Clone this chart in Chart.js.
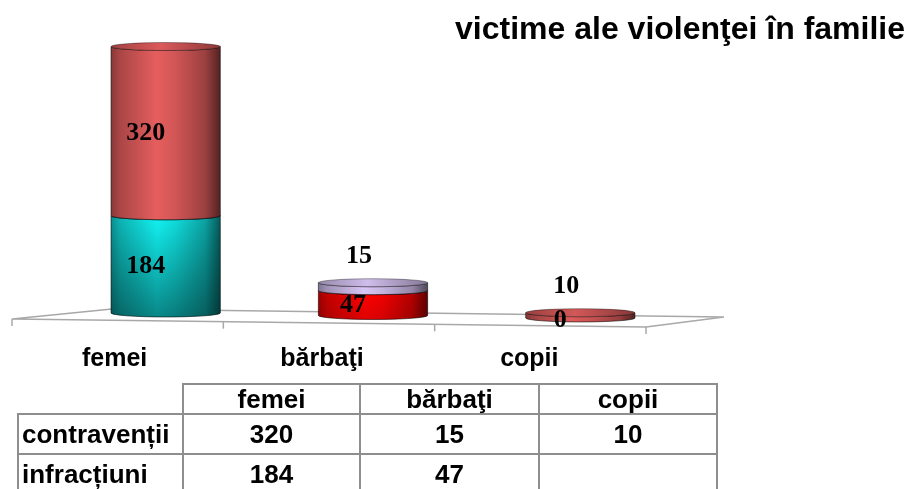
<!DOCTYPE html>
<html><head><meta charset="utf-8">
<script src="https://cdn.jsdelivr.net/npm/chart.js@4.4.1/dist/chart.umd.min.js"></script>
<style>
html,body{margin:0;padding:0;background:#fff;overflow:hidden;width:908px;height:489px;}
#wrap{position:relative;width:908px;height:489px;overflow:hidden;}
canvas{position:absolute;left:0;top:0;}
table{position:absolute;left:17px;top:383px;border-collapse:collapse;table-layout:fixed;font:bold 26px "Liberation Sans",Arial,sans-serif;color:#000;}
td{border:2px solid #8e8e8e;padding:0;text-align:center;line-height:1;white-space:nowrap;overflow:hidden;}
td.rl{text-align:left;padding-left:3px;}
td.blank{border-top:none;border-left:none;}
tr.h td{height:28px;}
tr.r td{height:38px;}
</style></head>
<body><div id="wrap"><canvas id="c" width="908" height="489"></canvas><table id="t"></table></div>
<script>
// ---- data ----
const titleText = 'victime ale violenţei în familie';
const categories = ['femei', 'bărbaţi', 'copii'];
const seriesNames = ['infracțiuni', 'contravenții'];
const infractiuni = [184, 47, 0];
const contraventii = [320, 15, 10];
const infractiuniColors = ['#10d4d4', '#e80000', '#c0504d'];
const contraventiiColors = ['#c85252', '#bcacd6', '#c05050'];

// ---- helpers ----
function rgb(hex){const h=hex.replace('#','');return [parseInt(h.substr(0,2),16),parseInt(h.substr(2,2),16),parseInt(h.substr(4,2),16)];}
function shade(hex,f){const c=rgb(hex).map(v=>Math.max(0,Math.min(255,Math.round(v*f))));return 'rgb('+c.join(',')+')';}

const RY = 4;
const TILT = 0.012;

const cylPlugin = {
  id: 'cyl',
  beforeDatasetsDraw(chart){
    const ctx = chart.ctx, ca = chart.chartArea;
    const B = chart.scales.y.getPixelForValue(0);
    const L = ca.left, R = ca.right;
    const FL=[L-50,B+6], FR=[R-38,B+14], BL=[L+50,B-4], BR=[R+40,B+4];
    ctx.save();
    ctx.strokeStyle='#a8a8a8'; ctx.lineWidth=1.5;
    ctx.beginPath();
    ctx.moveTo(FL[0],FL[1]); ctx.lineTo(BL[0],BL[1]); ctx.lineTo(BR[0],BR[1]); ctx.lineTo(FR[0],FR[1]); ctx.closePath();
    ctx.stroke();
    const n = categories.length;
    for(let i=0;i<=n;i++){
      const px = FL[0]+(FR[0]-FL[0])*i/n, py = FL[1]+(FR[1]-FL[1])*i/n;
      ctx.beginPath(); ctx.moveTo(px,py); ctx.lineTo(px,py+7); ctx.stroke();
    }
    ctx.restore();
  },
  beforeDatasetDraw(){ return false; },
  afterDatasetsDraw(chart){
    const ctx = chart.ctx;
    const m0 = chart.getDatasetMeta(0), m1 = chart.getDatasetMeta(1);
    const x0 = m0.data[0].x;
    const metas = [m0, m1];
    const labels = [];
    ctx.save();
    for(let i=0;i<categories.length;i++){
      for(let d=0; d<2; d++){
        const el = metas[d].data[i];
        const p = el.getProps(['x','y','base','width'], true);
        const t = (p.x - x0)*TILT;
        const top = p.y + t, bot = p.base + t;
        const h = bot - top;
        const val = chart.data.datasets[d].data[i];
        const col = el.options.backgroundColor;
        labels.push({d, x:p.x, top, bot, h, val});
        if (h < 0.5) continue;
        const rx = p.width/2, xl = p.x - rx, xr = p.x + rx;
        const g = ctx.createLinearGradient(xl,0,xr,0);
        [[0,0.68],[0.08,0.85],[0.42,1.15],[0.58,1.05],[0.86,0.78],[1,0.42]].forEach(s=>g.addColorStop(s[0],shade(col,s[1])));
        ctx.beginPath();
        ctx.moveTo(xl, top);
        ctx.lineTo(xl, bot);
        ctx.ellipse(p.x, bot, rx, RY, 0, Math.PI, 0, true);
        ctx.lineTo(xr, top);
        ctx.ellipse(p.x, top, rx, RY, 0, 0, Math.PI, false);
        ctx.closePath();
        ctx.fillStyle = g; ctx.fill();
        if (d === 0) {
          const a = 0.5*Math.min(1, h/100);
          const vg = ctx.createLinearGradient(0, top, 0, bot+RY);
          vg.addColorStop(0,'rgba(0,20,20,0)'); vg.addColorStop(1,'rgba(0,20,20,'+a+')');
          ctx.fillStyle = vg; ctx.fill();
        }
        ctx.strokeStyle='rgba(0,0,0,0.55)'; ctx.lineWidth=1;
        ctx.stroke();
        const cg = ctx.createLinearGradient(xl,0,xr,0);
        [[0,0.8],[0.45,1.1],[1,0.7]].forEach(s=>cg.addColorStop(s[0],shade(col,s[1])));
        ctx.beginPath();
        ctx.ellipse(p.x, top, rx, RY, 0, 0, Math.PI*2);
        ctx.fillStyle = cg; ctx.fill();
        ctx.strokeStyle='rgba(0,0,0,0.35)'; ctx.stroke();
      }
    }
    ctx.fillStyle='#000';
    ctx.font='bold 26px "Liberation Serif", "Times New Roman", serif';
    ctx.textAlign='center'; ctx.textBaseline='middle';
    labels.forEach(l=>{
      if (l.d === 1 && l.h < 30) {
        ctx.fillText(String(l.val), l.x-14, l.top-RY-22);
      } else {
        ctx.fillText(String(l.val), l.x-20, (l.top+l.bot)/2 + 2);
      }
    });
    ctx.restore();
  }
};

new Chart(document.getElementById('c').getContext('2d'), {
  type: 'bar',
  data: {
    labels: categories,
    datasets: [
      {label: seriesNames[0], data: infractiuni, backgroundColor: infractiuniColors},
      {label: seriesNames[1], data: contraventii, backgroundColor: contraventiiColors}
    ]
  },
  options: {
    responsive: false,
    animation: false,
    layout: {padding: {left: 62, right: 3, top: 0, bottom: 92}},
    datasets: {bar: {categoryPercentage: 1, barPercentage: 0.527}},
    plugins: {
      legend: {display: false},
      tooltip: {enabled: false},
      title: {
        display: true, text: titleText, align: 'end', color: '#000',
        font: {family: '"Liberation Sans", Arial, sans-serif', size: 32, weight: 'bold', lineHeight: 1},
        padding: {top: 14, bottom: 0}
      }
    },
    scales: {
      x: {
        stacked: true,
        grid: {display: false},
        border: {display: false},
        ticks: {labelOffset: -51, padding: 23, color: '#000', maxRotation: 0,
          font: {family: '"Liberation Sans", Arial, sans-serif', size: 25, weight: 'bold'}}
      },
      y: {
        stacked: true, position: 'right', min: 0, max: 505,
        grid: {display: false}, border: {display: false},
        ticks: {display: false},
        afterFit: (s) => { s.width = 221; }
      }
    }
  },
  plugins: [cylPlugin]
});

// ---- table ----
const tbl = document.getElementById('t');
const colW = [165, 177, 179, 178];
let html = '<colgroup>' + colW.map(w=>'<col style="width:'+w+'px">').join('') + '</colgroup>';
html += '<tr class="h"><td class="blank"></td>' + categories.map(c=>'<td>'+c+'</td>').join('') + '</tr>';
const rows = [[seriesNames[1], contraventii], [seriesNames[0], infractiuni]];
rows.forEach(r=>{
  html += '<tr class="r"><td class="rl">'+r[0]+'</td>' + r[1].map(v=>'<td>'+(v ? v : '')+'</td>').join('') + '</tr>';
});
tbl.innerHTML = html;
</script>
</body></html>
